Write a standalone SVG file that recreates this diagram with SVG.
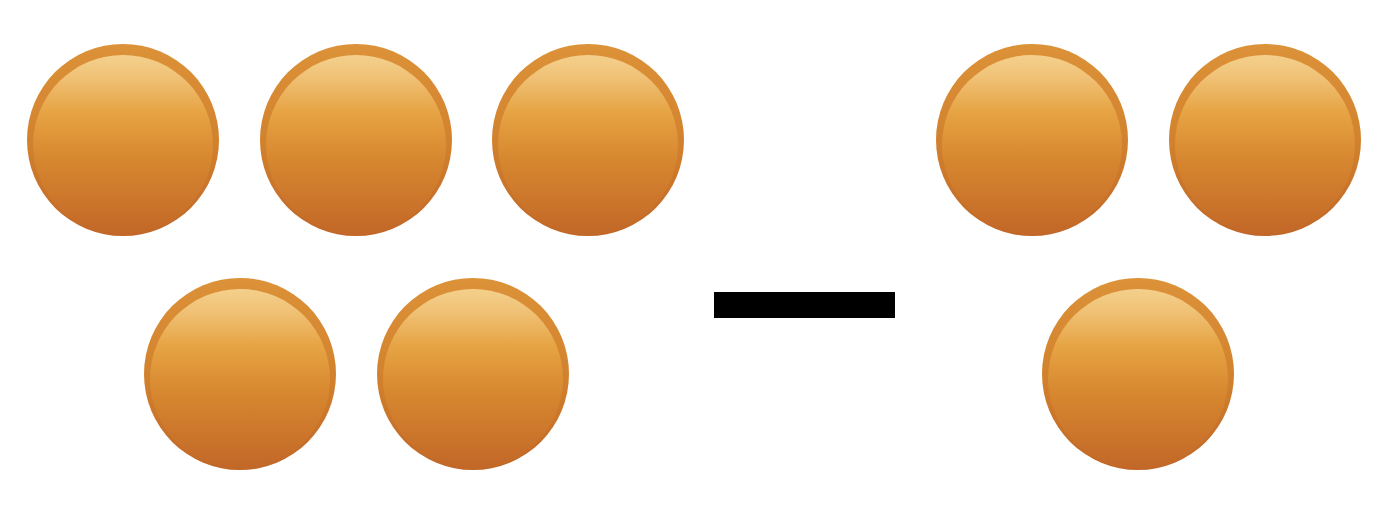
<svg xmlns="http://www.w3.org/2000/svg" width="1388" height="506" viewBox="0 0 1388 506">
<defs>
<linearGradient id="rim" x1="0" y1="0" x2="0" y2="1">
<stop offset="0" stop-color="#dc9238"/>
<stop offset="0.5" stop-color="#d2822e"/>
<stop offset="1" stop-color="#c06626"/>
</linearGradient>
<linearGradient id="face" x1="0" y1="0" x2="0" y2="1">
<stop offset="0" stop-color="#f4d08c"/>
<stop offset="0.12" stop-color="#f0c277"/>
<stop offset="0.32" stop-color="#e6a343"/>
<stop offset="0.58" stop-color="#d7872f"/>
<stop offset="1" stop-color="#c26728"/>
</linearGradient>
<g id="coin">
<circle r="96" fill="url(#rim)"/>
<circle cx="0" cy="5" r="90" fill="url(#face)"/>
</g>
</defs>
<rect width="1388" height="506" fill="#ffffff"/>
<g id="coin1"><use href="#coin" x="123" y="140"/></g>
<g id="coin2"><use href="#coin" x="356" y="140"/></g>
<g id="coin3"><use href="#coin" x="588" y="140"/></g>
<g id="coin4"><use href="#coin" x="240" y="374"/></g>
<g id="coin5"><use href="#coin" x="473" y="374"/></g>
<g id="minus"><rect x="714" y="292" width="181" height="26" fill="#000000"/></g>
<g id="coin6"><use href="#coin" x="1032" y="140"/></g>
<g id="coin7"><use href="#coin" x="1265" y="140"/></g>
<g id="coin8"><use href="#coin" x="1138" y="374"/></g>
<g id="connectors"/>
</svg>
